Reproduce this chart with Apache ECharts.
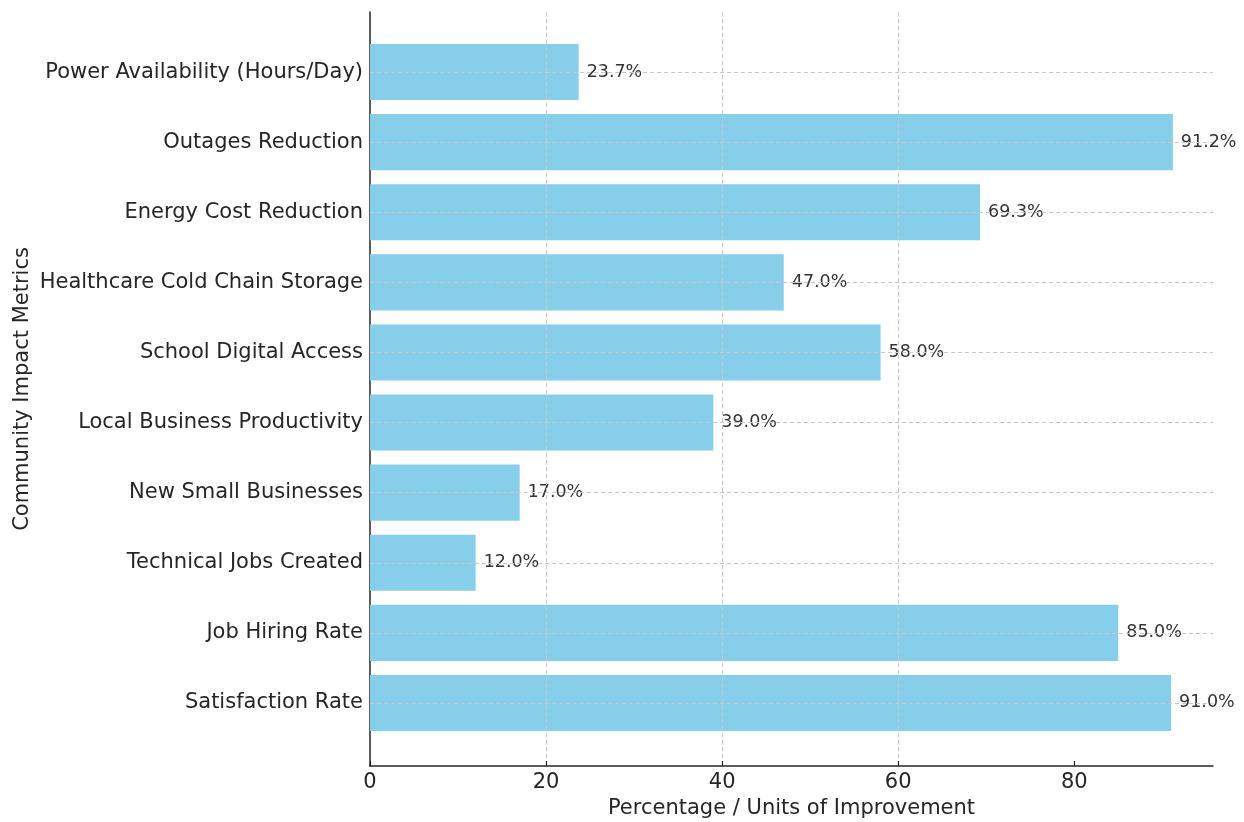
<!DOCTYPE html>
<html>
<head>
<meta charset="utf-8">
<script src="https://cdn.jsdelivr.net/npm/echarts@6/dist/echarts.min.js"></script>
<style>html,body{margin:0;padding:0;background:#fff;}#c{width:1244px;height:822px;}</style>
</head>
<body>
<div id="c"></div>
<script>
const categories = ["Power Availability (Hours/Day)", "Outages Reduction", "Energy Cost Reduction", "Healthcare Cold Chain Storage", "School Digital Access", "Local Business Productivity", "New Small Businesses", "Technical Jobs Created", "Job Hiring Rate", "Satisfaction Rate"];
const values = [23.7, 91.2, 69.3, 47.0, 58.0, 39.0, 17.0, 12.0, 85.0, 91.0];
const xTicks = [0, 20, 40, 60, 80];
const xMax = 95.76;
const xTitle = "Percentage / Units of Improvement";
const yTitle = "Community Impact Metrics";

const FONT = "DejaVu Sans";
const chart = echarts.init(document.getElementById('c'), null, {renderer: 'canvas'});
chart.setOption({
  animation: false,
  backgroundColor: '#ffffff',
  textStyle: {fontFamily: FONT},
  grid: [
    {left: 370, right: 31, top: 37, bottom: 84, containLabel: false, outerBoundsMode: 'none'},
    {left: 370, right: 31, top: 12, bottom: 56, containLabel: false, outerBoundsMode: 'none'}
  ],
  xAxis: [
    {gridIndex: 0, type: 'value', min: 0, max: xMax, show: false},
    {gridIndex: 1, type: 'value', min: 0, max: xMax, interval: 20, z: 3,
     axisLine: {show: true, lineStyle: {color: '#262626', width: 1.5}},
     axisTick: {show: true, inside: true, length: 5, customValues: xTicks, lineStyle: {color: '#262626', width: 1.2}},
     axisLabel: {show: true, customValues: xTicks, fontSize: 21, color: '#262626', margin: 6, fontFamily: FONT},
     splitLine: {show: true, showMinLine: false, showMaxLine: false, lineStyle: {color: '#c8c8c8', type: [4, 3], width: 1}},
     name: xTitle, nameLocation: 'middle', nameGap: 32,
     nameTextStyle: {fontSize: 21, color: '#262626', fontFamily: FONT}
    }
  ],
  yAxis: [
    {gridIndex: 0, type: 'category', data: categories, inverse: true,
     axisLine: {show: false},
     axisTick: {show: true, inside: true, alignWithLabel: true, length: 5, lineStyle: {color: '#262626', width: 1.2}},
     axisLabel: {fontSize: 21, color: '#262626', margin: 7, fontFamily: FONT, padding: [4, 0, 0, 0]},
     splitLine: {show: false}
    },
    {gridIndex: 1, type: 'value', min: 0, max: 1,
     axisLine: {show: true, lineStyle: {color: '#262626', width: 1.5}},
     axisTick: {show: false}, axisLabel: {show: false}, splitLine: {show: false},
     name: yTitle, nameLocation: 'middle', nameGap: 337, nameRotate: 90,
     nameTextStyle: {fontSize: 21, color: '#262626', fontFamily: FONT}
    }
  ],
  series: [{
    type: 'bar',
    xAxisIndex: 0, yAxisIndex: 0,
    data: values,
    barWidth: '80%',
    itemStyle: {color: '#87CEEB'},
    label: {show: true, position: 'right', distance: 8, fontSize: 17.5, color: '#333333', fontFamily: FONT,
            padding: [3, 0, 0, 0],
            formatter: p => p.value.toFixed(1) + '%'},
    markLine: {
      silent: true, symbol: ['none', 'none'], z: 4,
      label: {show: false},
      lineStyle: {color: '#c8c8c8', type: [4, 3], width: 1},
      data: categories.map(c => ({yAxis: c}))
    }
  }]
});
</script>
</body>
</html>
